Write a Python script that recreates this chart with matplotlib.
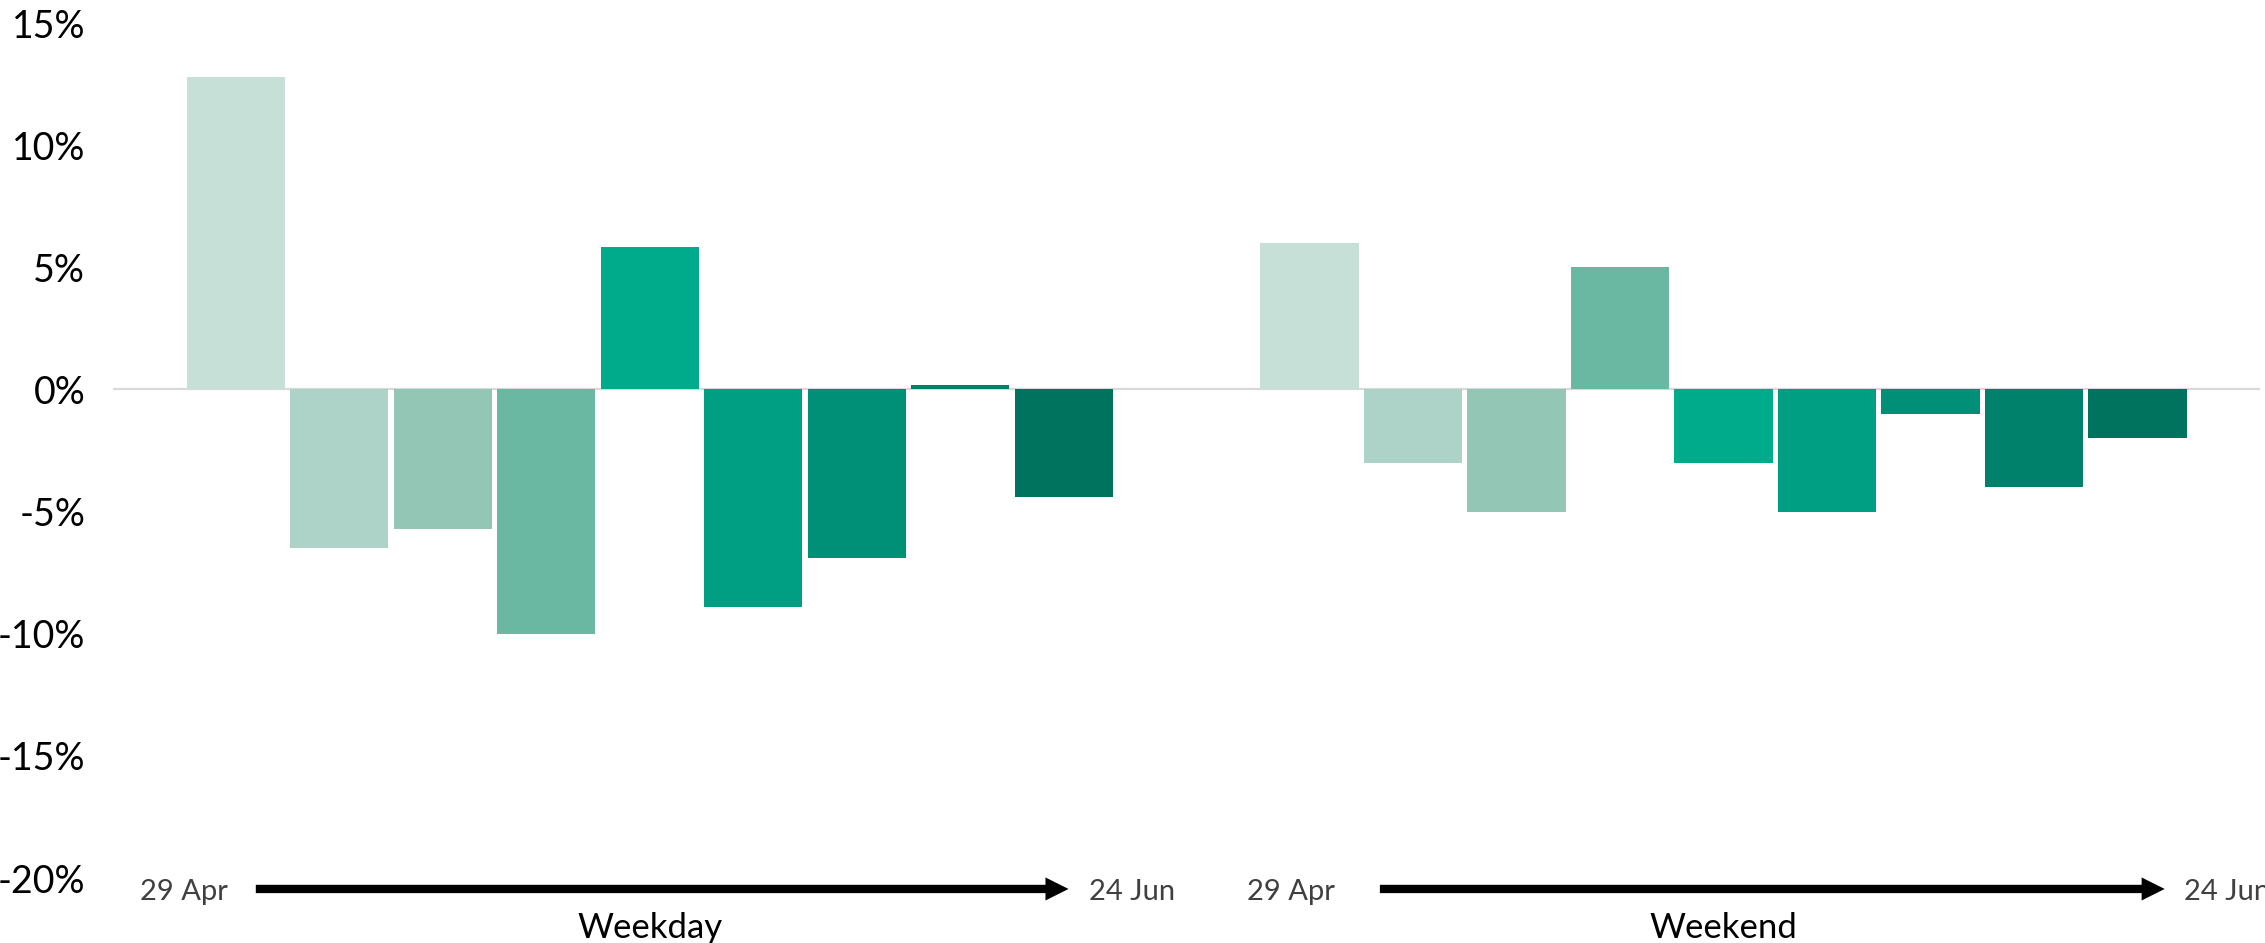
import numpy as np
import matplotlib
matplotlib.use("Agg")
import matplotlib.pyplot as plt
from matplotlib.transforms import blended_transform_factory

# data
categories = ["Weekday", "Weekend"]
weekday = [12.8, -6.5, -5.7, -10.0, 5.85, -8.9, -6.9, 0.2, -4.4]
weekend = [6.0, -3.0, -5.0, 5.0, -3.0, -5.0, -1.0, -4.0, -2.0]
colors = ["#C6E0D8", "#ADD3C8", "#93C6B5", "#6AB8A2", "#00AB8C",
          "#009E83", "#008F77", "#00816B", "#00735F"]
yticks = [15, 10, 5, 0, -5, -10, -15, -20]
start_label = "29 Apr"
end_label = "24 Jun"

# timeline layout per group (offsets from the category centre, in category units)
start_text_x = [-0.434, -0.403]
arrow_from = [-0.367, -0.320]
arrow_to = [0.390, 0.411]
end_text_x = [0.409, 0.429]

plt.rcParams['font.family'] = ['Lato', 'DejaVu Sans']

fig = plt.figure(figsize=(22.65, 9.43), dpi=100)
ax = fig.add_axes([0.0499, 0.0689, 0.948, 0.9067])

n = len(weekday)
step = 0.0964
width = 0.0915
x = np.arange(len(categories))
for i in range(n):
    vals = [weekday[i], weekend[i]]
    ax.bar(x + (i - (n - 1) / 2) * step, vals, width, color=colors[i], zorder=2)

ax.axhline(0, color="#D9D9D9", lw=1.6, zorder=1)
ax.set_xlim(-0.5, 1.5)
ax.set_ylim(-20, 15)
ax.set_yticks(yticks)
ax.set_yticklabels([f"{t}%" for t in yticks])
ax.tick_params(axis="y", length=0, labelsize=27, pad=20)
ax.set_xticks([])
for s in ax.spines.values():
    s.set_visible(False)

# timeline arrows below each group
tr = blended_transform_factory(ax.transData, fig.transFigure)
y_arrow = 0.0573
for c in x:
    ax.text(c + start_text_x[c], 0.0456, start_label, transform=tr, ha="center",
            va="baseline", fontsize=21, color="#404040")
    ax.text(c + end_text_x[c], 0.0456, end_label, transform=tr, ha="left",
            va="baseline", fontsize=21, color="#404040", clip_on=False)
    ax.annotate("", xy=(c + arrow_to[c], y_arrow), xytext=(c + arrow_from[c], y_arrow),
                xycoords=tr, textcoords=tr,
                arrowprops=dict(arrowstyle="simple,head_length=1.66,head_width=1.66,tail_width=0.6",
                                mutation_scale=10, lw=0, fc="black", ec="none",
                                shrinkA=0, shrinkB=0))
    ax.text(c, 0.033, categories[c], transform=tr, ha="center", va="top",
            fontsize=25, color="black")

fig.savefig("out.png", dpi=100)
